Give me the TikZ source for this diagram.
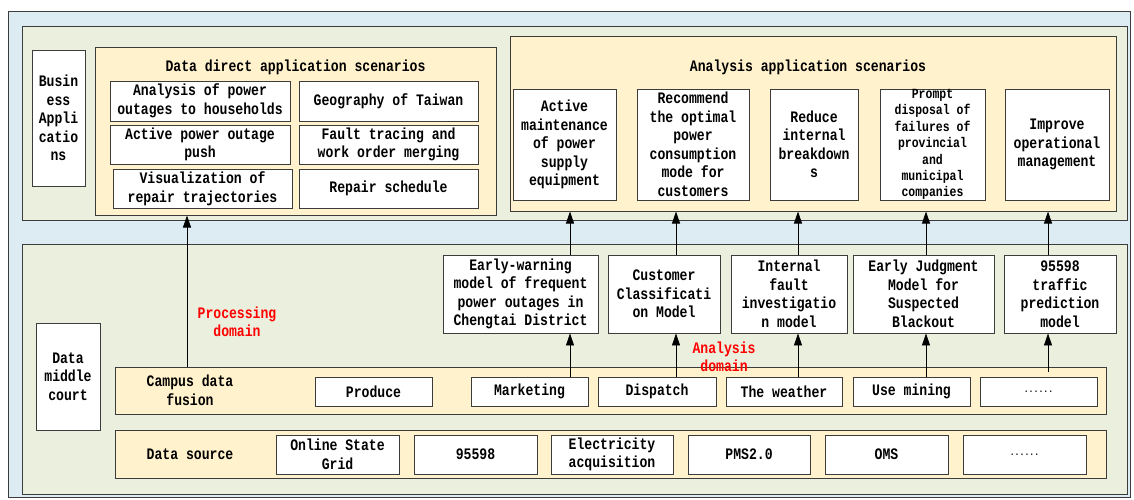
\documentclass[tikz,border=0pt]{standalone}
\usepackage{fontspec}
\setmainfont{Liberation Mono}[FakeStretch=0.82]
\usetikzlibrary{arrows.meta}
\definecolor{bgblue}{RGB}{221,236,243}
\definecolor{pgreen}{RGB}{235,240,222}
\definecolor{beige}{RGB}{255,242,204}
\definecolor{linec}{RGB}{60,60,60}
\begin{document}
\begin{tikzpicture}[x=1pt,y=-1pt,
  every node/.style={font=\fontsize{16}{18.5}\selectfont\bfseries},
  panel/.style={draw=linec, line width=1pt, inner sep=0pt},
  wbox/.style={draw=linec, fill=white, line width=0.9pt, align=center, inner sep=0pt},
  lbl/.style={align=center, inner sep=0pt},
  redlbl/.style={align=center, inner sep=0pt, text=red},
  small/.style={font=\fontsize{14}{16.4}\selectfont\bfseries},
  arr/.style={draw=black, line width=0.8pt, -{Triangle[length=12pt,width=8pt]}}
]
\useasboundingbox (0,0) rectangle (1134,499);
% outer frames
\node[panel, fill=bgblue, minimum width=1122, minimum height=486] (outer) at (569,254) {};
\node[panel, fill=pgreen, minimum width=1105, minimum height=194] (top) at (574.5,123) {};
\node[panel, fill=pgreen, minimum width=1105, minimum height=250] (bot) at (574.5,369) {};

% Business applications
\node[wbox, minimum width=53, minimum height=136] (bus) at (58.5,118) {Busin\\ess\\Appli\\catio\\ns};

% Data direct application scenarios
\node[panel, fill=beige, minimum width=401, minimum height=168] (dd) at (295.5,131) {};
\node[lbl] (ddt) at (295.5,67) {Data direct application scenarios};
\node[wbox, minimum width=180, minimum height=40] (d1) at (200,101) {Analysis of power\\outages to households};
\node[wbox, minimum width=179, minimum height=40] (d2) at (388.5,101) {Geography of Taiwan};
\node[wbox, minimum width=180, minimum height=39] (d3) at (200,144.5) {Active power outage\\push};
\node[wbox, minimum width=179, minimum height=39] (d4) at (388.5,144.5) {Fault tracing and\\work order merging};
\node[wbox, minimum width=179, minimum height=39] (d5) at (202.5,188.5) {Visualization of\\repair trajectories};
\node[wbox, minimum width=179, minimum height=39] (d6) at (388.5,188.5) {Repair schedule};

% Analysis application scenarios
\node[panel, fill=beige, minimum width=606, minimum height=175] (an) at (813,123.5) {};
\node[lbl] (ant) at (808,67) {Analysis application scenarios};
\node[wbox, minimum width=103, minimum height=111] (a1) at (564.5,144.5) {Active\\maintenance\\of power\\supply\\equipment};
\node[wbox, minimum width=112, minimum height=111] (a2) at (693,144.5) {Recommend\\the optimal\\power\\consumption\\mode for\\customers};
\node[wbox, minimum width=88, minimum height=111] (a3) at (814,144.5) {Reduce\\internal\\breakdown\\s};
\node[wbox, small, minimum width=105, minimum height=111] (a4) at (932.5,144.5) {Prompt\\disposal of\\failures of\\provincial\\and\\municipal\\companies};
\node[wbox, minimum width=104, minimum height=111] (a5) at (1057,144.5) {Improve\\operational\\management};

% Models
\node[wbox, minimum width=155, minimum height=78] (m1) at (520.5,294) {Early-warning\\model of frequent\\power outages in\\Chengtai District};
\node[wbox, minimum width=112, minimum height=78] (m2) at (664,294) {Customer\\Classificati\\on Model};
\node[wbox, minimum width=116, minimum height=78] (m3) at (789,294) {Internal\\fault\\investigatio\\n model};
\node[wbox, minimum width=141, minimum height=78] (m4) at (923.5,294) {Early Judgment\\Model for\\Suspected\\Blackout};
\node[wbox, minimum width=112, minimum height=78] (m5) at (1060,294) {95598\\traffic\\prediction\\model};

% Data middle court
\node[wbox, minimum width=64, minimum height=107] (dmc) at (68,376.5) {Data\\middle\\court};

% Campus data fusion
\node[panel, fill=beige, minimum width=991, minimum height=47] (cf) at (610.5,390.5) {};
\node[lbl] (cft) at (190,390.5) {Campus data\\fusion};
\node[wbox, minimum width=117, minimum height=29] (c1) at (373.5,391.5) {Produce};
\node[wbox, minimum width=117, minimum height=29] (c2) at (529.5,391.5) {Marketing};
\node[wbox, minimum width=118, minimum height=29] (c3) at (657,391.5) {Dispatch};
\node[wbox, minimum width=116, minimum height=29] (c4) at (784,391.5) {The weather};
\node[wbox, minimum width=117, minimum height=29] (c5) at (911.5,391.5) {Use mining};
\node[wbox, minimum width=117, minimum height=29] (c6) at (1038.5,391.5) {\fontsize{10}{10}\selectfont ......};

% Data source
\node[panel, fill=beige, minimum width=991, minimum height=48] (ds) at (610.5,454) {};
\node[lbl] (dst) at (190,454) {Data source};
\node[wbox, minimum width=123, minimum height=39] (s1) at (337.5,454.5) {Online State\\Grid};
\node[wbox, minimum width=123, minimum height=39] (s2) at (475.5,454.5) {95598};
\node[wbox, minimum width=122, minimum height=39] (s3) at (612,454.5) {Electricity\\acquisition};
\node[wbox, minimum width=122, minimum height=39] (s4) at (749,454.5) {PMS2.0};
\node[wbox, minimum width=123, minimum height=39] (s5) at (886.5,454.5) {OMS};
\node[wbox, minimum width=123, minimum height=39] (s6) at (1024.5,454.5) {\fontsize{10}{10}\selectfont ......};

% column coordinates
\coordinate (x0) at (187,0);
\coordinate (x1) at (570,0);
\coordinate (x2) at (676,0);
\coordinate (x3) at (798,0);
\coordinate (x4) at (926,0);
\coordinate (x5) at (1048,0);
\coordinate (e5) at (1048,372);

% arrows
\draw[arr] (cf.north -| x0) -- (dd.south -| x0);
\draw[arr] (c2.north -| x1) -- (m1.south -| x1);
\draw[arr] (c3.north -| x2) -- (m2.south -| x2);
\draw[arr] (c4.north -| x3) -- (m3.south -| x3);
\draw[arr] (c5.north -| x4) -- (m4.south -| x4);
\draw[arr] (e5) -- (m5.south -| x5);
\draw[arr] (m1.north -| x1) -- (an.south -| x1);
\draw[arr] (m2.north -| x2) -- (an.south -| x2);
\draw[arr] (m3.north -| x3) -- (an.south -| x3);
\draw[arr] (m4.north -| x4) -- (an.south -| x4);
\draw[arr] (m5.north -| x5) -- (an.south -| x5);

% red labels
\node[redlbl] (pd) at (237,322) {Processing\\domain};
\node[redlbl] (ad) at (724,357) {Analysis\\domain};
\end{tikzpicture}
\end{document}
